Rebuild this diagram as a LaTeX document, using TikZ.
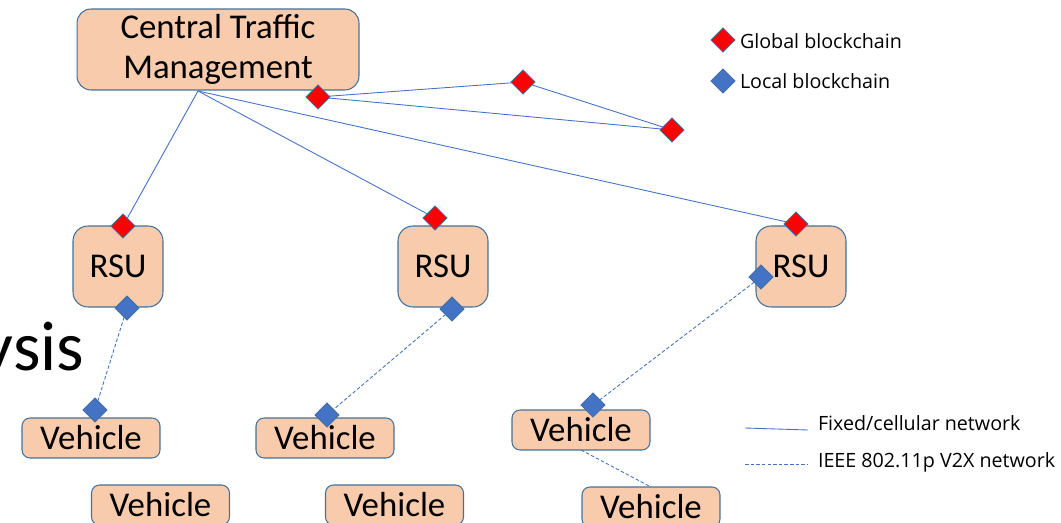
\documentclass[tikz,border=0pt]{standalone}
\usepackage{fontspec}
\setmainfont{Carlito}
\newfontfamily\legendfont{Open Sans}
\usetikzlibrary{shapes.geometric}
\definecolor{boxfill}{HTML}{F8CBAD}
\definecolor{boxedge}{HTML}{41719C}
\definecolor{linkblue}{HTML}{4472C4}
\definecolor{chainred}{HTML}{FF0000}
\begin{document}
\begin{tikzpicture}[x=0.02cm,y=-0.02cm,inner sep=0pt,outer sep=0pt,
unitbox/.style={draw=boxedge,fill=boxfill,line width=0.6pt,rectangle,rounded corners=0.24cm,font=\fontsize{19.8}{23.5}\selectfont},
rsubox/.style={unitbox,minimum width=1.8cm,minimum height=1.62cm,rounded corners=0.3cm},
carbox/.style={unitbox,minimum width=2.76cm,minimum height=0.8cm,rounded corners=0.16cm},
globalchain/.style={diamond,draw=boxedge,fill=chainred,line width=0.5pt,minimum width=0.48cm,minimum height=0.48cm},
localchain/.style={diamond,draw=boxedge,fill=linkblue,line width=0.5pt,minimum width=0.48cm,minimum height=0.48cm},
fixedlink/.style={draw=linkblue,line width=0.5pt},
v2xlink/.style={draw=linkblue,line width=0.5pt,dash pattern=on 2pt off 1.2pt},
legendtext/.style={anchor=west,font=\legendfont\fontsize{11.2}{14}\selectfont}]
\useasboundingbox (0,0) rectangle (1061,523);
% background title text
\draw (-18,370) node[anchor=base west,font=\fontsize{40}{48}\selectfont] (title) {ysis};
% boxes
\draw (218,49.5) node[unitbox,minimum width=5.64cm,minimum height=1.62cm,align=center,rounded corners=0.28cm] (CTM) {Central Traffic\\[-1pt]Management};
\draw (118,266.5) node[rsubox] (R1) {RSU};
\draw (443,266.5) node[rsubox] (R2) {RSU};
\draw (801,266.5) node[rsubox] (R3) {RSU};
\draw (91,438) node[carbox] (V1) {Vehicle};
\draw (325,438) node[carbox] (V2) {Vehicle};
\draw (581,430) node[carbox] (V3) {Vehicle};
\draw (160.5,505) node[carbox] (V4) {Vehicle};
\draw (394.5,505) node[carbox] (V5) {Vehicle};
\draw (651,507) node[carbox] (V6) {Vehicle};
% blockchain copies
\draw (318,97) node[globalchain] (G0) {};
\draw (523,82) node[globalchain] (G4) {};
\draw (672,130) node[globalchain] (G5) {};
\draw (123,226) node[globalchain] (G1) {};
\draw (435,218) node[globalchain] (G2) {};
\draw (796,224) node[globalchain] (G3) {};
\draw (127,308) node[localchain] (L1) {};
\draw (452,309) node[localchain] (L2) {};
\draw (761,277) node[localchain] (L3) {};
\draw (95,410) node[localchain] (C1) {};
\draw (327,415) node[localchain] (C2) {};
\draw (593,405) node[localchain] (C3) {};
% fixed network
\coordinate (hub) at (198,91);
\draw[fixedlink] (hub) -- (G1);
\draw[fixedlink] (hub) -- (G2);
\draw[fixedlink] (hub) -- (G3);
\draw[fixedlink] (G0) -- (G4) -- (G5) -- (G0);
% V2X network
\draw[v2xlink] (L1) -- (C1);
\draw[v2xlink] (L2) -- (C2);
\draw[v2xlink] (L3) -- (C3);
\draw[v2xlink] (V3.south) -- (V6.north);
% legend
\draw (723,40) node[globalchain] (keyG) {};
\draw (740,41) node[legendtext] (keyGtext) {Global blockchain};
\draw (723,81) node[localchain] (keyL) {};
\draw (740,81) node[legendtext] (keyLtext) {Local blockchain};
\coordinate (fixA) at (745,428);
\coordinate (fixB) at (808,430);
\coordinate (v2xA) at (745,464);
\coordinate (v2xB) at (808,464);
\draw[fixedlink] (fixA) -- (fixB);
\draw[v2xlink] (v2xA) -- (v2xB);
\draw (818,423) node[legendtext] (fixtext) {Fixed/cellular network};
\draw (818,462) node[legendtext] (v2xtext) {IEEE 802.11p V2X network};
\end{tikzpicture}
\end{document}
